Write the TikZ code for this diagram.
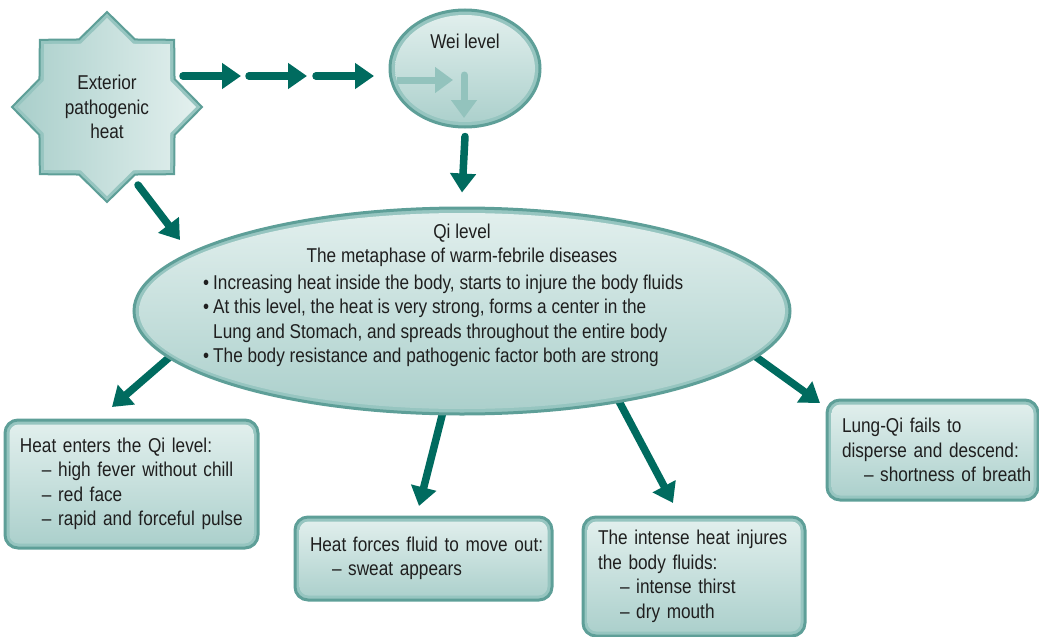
\documentclass[tikz,border=0pt]{standalone}
\usepackage{fontspec}
\setmainfont{Liberation Sans}[FakeStretch=0.86]
\usetikzlibrary{arrows.meta,shapes.geometric,calc}
\pgfdeclarelayer{bg}
\pgfsetlayers{bg,main}

\definecolor{edge}{HTML}{5E9F98}
\definecolor{rim}{HTML}{96C5C0}
\definecolor{filltop}{HTML}{E3F0EE}
\definecolor{fillbot}{HTML}{AACFCB}
\definecolor{arrowc}{HTML}{006B5F}
\definecolor{ghost}{HTML}{93C3BD}

\newcommand\panelpad{\leftskip=15pt\relax}

\tikzset{
  every node/.style={font=\fontsize{20}{24.5}\selectfont, text=black!88},
  flow/.style={draw=arrowc, line width=7.5pt, line cap=round,
    -{Triangle[length=19pt,width=25pt]}},
  sunkflow/.style={draw=arrowc, line width=7.5pt,
    -{Triangle[length=19pt,width=25pt]}},
  ghostflow/.style={draw=ghost, line width=7pt,
    -{Triangle[length=18pt,width=25pt]}},
  panel/.style 2 args={rectangle, rounded corners=13pt, draw=edge, line width=3pt,
    fill=rim, minimum width=#1, minimum height=#2, text width=#1,
    inner xsep=0pt, align=left,
    path picture={\shade[top color=filltop, bottom color=fillbot, rounded corners=9pt]
      ([shift={(4.5pt,4.5pt)}]path picture bounding box.south west) rectangle
      ([shift={(-4.5pt,-4.5pt)}]path picture bounding box.north east);}},
  oval/.style={ellipse, draw=edge, line width=3pt, fill=rim, inner sep=0pt,
    path picture={\shade[top color=filltop, bottom color=fillbot]
      let \p1=($(path picture bounding box.north east)-(path picture bounding box.center)$)
      in (path picture bounding box.center) ellipse [x radius=\x1-5pt, y radius=\y1-5pt];}},
  starrim/.style={star, star points=8, star point ratio=1.3, minimum size=190pt,
    inner sep=0pt, fill=rim, draw=edge, line width=2pt},
  starface/.style={star, star points=8, star point ratio=1.3, minimum size=178pt,
    inner sep=0pt, left color=fillbot, right color=filltop, align=center,
    text depth=0pt},
}

\begin{document}
\begin{tikzpicture}[x=1pt, y=-1pt]
\useasboundingbox (0,0) rectangle (1039,637);

% exterior heat star
\node[starrim] (starrim) at (107,107) {};
\node[starface] (star) at (107,107) {Exterior\\pathogenic\\heat};

% Wei level
\node[oval, minimum width=150pt, minimum height=117pt] (wei) at (465,68.5) {};
\draw[ghostflow] ([shift={(-68pt,-11.5pt)}]wei.center) -- ([shift={(-12pt,-11.5pt)}]wei.center);
\draw[ghostflow, line cap=round] ([shift={(-1pt,-6.5pt)}]wei.center) -- ([shift={(-1pt,-49.5pt)}]wei.center);
\node[anchor=base, inner sep=0pt] (weitext) at (465,48) {Wei level};

% Qi level
\node[oval, minimum width=656pt, minimum height=206pt] (qi) at (462,311) {};
\node[anchor=north, align=center, inner sep=0pt] (qihead) at (462,223.5)
  {Qi level\\The metaphase of warm-febrile diseases};
\node[anchor=north west, align=left, inner sep=0pt] (qibody) at (203,274.7)
  {\makebox[10pt][l]{•}Increasing heat inside the body, starts to injure the body fluids\\
   \makebox[10pt][l]{•}At this level, the heat is very strong, forms a center in the\\
   \hspace*{10pt}Lung and Stomach, and spreads throughout the entire body\\
   \makebox[10pt][l]{•}The body resistance and pathogenic factor both are strong};

% outcome panels
\node[panel={253pt}{128pt}] (b1) at (131.5,484)
  {\panelpad Heat enters the Qi level:\\
   \hspace*{22pt}– high fever without chill\\
   \hspace*{22pt}– red face\\
   \hspace*{22pt}– rapid and forceful pulse\par};
\node[panel={257pt}{83pt}] (b2) at (423.5,558.5)
  {\panelpad Heat forces fluid to move out:\\
   \hspace*{22pt}– sweat appears\par};
\node[panel={222pt}{119pt}] (b3) at (694,576.5)
  {\panelpad The intense heat injures\\
   the body fluids:\\
   \hspace*{22pt}– intense thirst\\
   \hspace*{22pt}– dry mouth\par};
\node[panel={211pt}{100pt}] (b4) at (932.5,450)
  {\panelpad Lung-Qi fails to\\
   disperse and descend:\\
   \hspace*{22pt}– shortness of breath\par};

% connector end points
\coordinate (d1) at (183,76);
\coordinate (d2) at (241,76);
\coordinate (d3) at (249,76);
\coordinate (d4) at (307,76);
\coordinate (d5) at (316,76);
\coordinate (d6) at (374,76);
\coordinate (s1) at (138,185);
\coordinate (s2) at (180,240);
\coordinate (q1) at (179,349);
\coordinate (t1) at (112,407);
\coordinate (q2) at (446,400);
\coordinate (t2) at (419,506);
\coordinate (q3) at (613,390);
\coordinate (t3) at (673,503);
\coordinate (q4) at (745,349);
\coordinate (t4) at (820,403);

% heat travels towards the Wei level
\draw[flow] (d1) -- (d2);
\draw[flow] (d3) -- (d4);
\draw[flow] (d5) -- (d6);
% into the Qi level
\draw[flow] (s1) -- (s2);
\draw[flow] ([yshift=-8pt]wei.south) -- ([yshift=14pt]qi.north);

% consequences, starting beneath the Qi oval
\begin{pgfonlayer}{bg}
\draw[sunkflow] (q1) -- (t1);
\draw[sunkflow] (q2) -- (t2);
\draw[sunkflow] (q3) -- (t3);
\draw[sunkflow] (q4) -- (t4);
\end{pgfonlayer}
\end{tikzpicture}
\end{document}
